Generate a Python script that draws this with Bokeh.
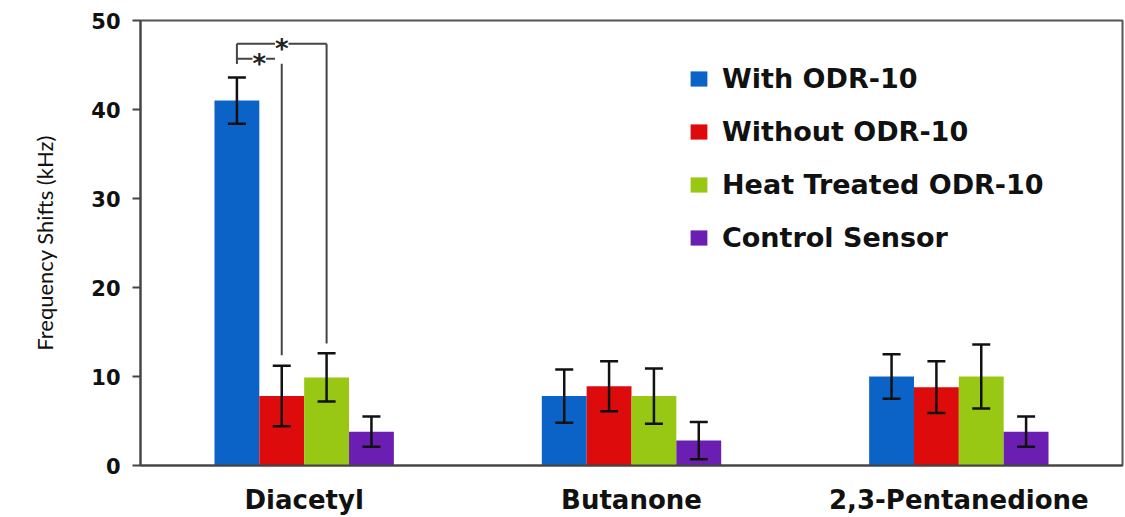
from bokeh.plotting import figure
from bokeh.models import Range1d, FixedTicker, Whisker, ColumnDataSource, Legend, LegendItem, Label, TeeHead
from bokeh.embed import file_html
from bokeh.resources import INLINE

categories = ["Diacetyl", "Butanone", "2,3-Pentanedione"]
series_names = ["With ODR-10", "Without ODR-10", "Heat Treated ODR-10", "Control Sensor"]
with_odr = [41.0, 7.8, 10.0]
with_odr_err = [2.6, 3.0, 2.5]
without_odr = [7.8, 8.9, 8.8]
without_odr_err = [3.4, 2.8, 2.9]
heat_treated = [9.9, 7.8, 10.0]
heat_treated_err = [2.7, 3.1, 3.6]
control_sensor = [3.8, 2.8, 3.8]
control_sensor_err = [1.7, 2.1, 1.7]
y_ticks = [0, 10, 20, 30, 40, 50]

# significance brackets (Diacetyl): from series 0 to series 1 and 2
sig_targets = [1, 2]
sig_levels = [45.7, 47.4]
sig_start = 45.1
sig_drop = [12.4, 13.7]

colors = ["#0b63c8", "#dd0b0b", "#98c814", "#6a1fb2"]
values = [with_odr, without_odr, heat_treated, control_sensor]
errors = [with_odr_err, without_odr_err, heat_treated_err, control_sensor_err]

bar_w = 0.137
n = len(series_names)

p = figure(width=1125, height=517, x_range=Range1d(0, 3), y_range=Range1d(0, 50),
           output_backend="svg", toolbar_location=None,
           min_border_left=140, min_border_right=3, min_border_top=20, min_border_bottom=52)
p.background_fill_color = "white"
p.border_fill_color = "white"
p.outline_line_color = "#555555"
p.outline_line_width = 2
p.xgrid.grid_line_color = None
p.ygrid.grid_line_color = None

centers = [i + 0.5 for i in range(len(categories))]
p.xaxis.ticker = FixedTicker(ticks=centers)
p.xaxis.major_label_overrides = {c: lab for c, lab in zip(centers, categories)}
p.xaxis.major_tick_line_color = None
p.xaxis.minor_tick_line_color = None
p.xaxis.axis_line_color = "#444444"
p.xaxis.axis_line_width = 2
p.xaxis.major_label_text_font = "DejaVu Sans"
p.xaxis.major_label_text_font_style = "bold"
p.xaxis.major_label_text_font_size = "26px"
p.xaxis.major_label_text_color = "#111111"
p.xaxis.major_label_standoff = 13

p.yaxis.ticker = FixedTicker(ticks=y_ticks)
p.yaxis.minor_tick_line_color = None
p.yaxis.major_tick_in = 0
p.yaxis.major_tick_out = 8
p.yaxis.major_tick_line_width = 2
p.yaxis.major_tick_line_color = "#444444"
p.yaxis.axis_line_color = "#444444"
p.yaxis.axis_line_width = 2
p.yaxis.major_label_text_font = "DejaVu Sans"
p.yaxis.major_label_text_font_style = "bold"
p.yaxis.major_label_text_font_size = "21px"
p.yaxis.major_label_text_color = "#111111"
p.yaxis.major_label_standoff = 12
p.yaxis.axis_label = "Frequency Shifts (kHz)"
p.yaxis.axis_label_text_font = "Lato"
p.yaxis.axis_label_text_font_style = "normal"
p.yaxis.axis_label_text_font_size = "22px"
p.yaxis.axis_label_text_color = "#111111"
p.yaxis.axis_label_standoff = 30

items = []
for k in range(n):
    xs = [c + (k - (n - 1) / 2) * bar_w for c in centers]
    src = ColumnDataSource(dict(x=xs, top=values[k],
                                up=[v + e for v, e in zip(values[k], errors[k])],
                                lo=[v - e for v, e in zip(values[k], errors[k])]))
    r = p.vbar(x="x", top="top", width=bar_w, source=src, fill_color=colors[k], line_color=None)
    items.append(LegendItem(label=series_names[k], renderers=[r]))
    w = Whisker(base="x", upper="up", lower="lo", source=src, line_color="#111111", line_width=2.5,
                level="overlay",
                upper_head=TeeHead(size=18, line_color="#111111", line_width=2.5),
                lower_head=TeeHead(size=18, line_color="#111111", line_width=2.5))
    p.add_layout(w)

# significance brackets
x0 = centers[0] + (0 - (n - 1) / 2) * bar_w
p.segment(x0=[x0], y0=[sig_start], x1=[x0], y1=[max(sig_levels)], line_color="#444444", line_width=2)
for t, lvl, drop in zip(sig_targets, sig_levels, sig_drop):
    xt = centers[0] + (t - (n - 1) / 2) * bar_w
    p.segment(x0=[x0, xt], y0=[lvl, lvl], x1=[xt, xt], y1=[lvl, drop], line_color="#444444", line_width=2)
    p.add_layout(Label(x=(x0 + xt) / 2, y=lvl, text="*", text_align="center", text_baseline="middle",
                       text_font="DejaVu Sans", text_font_size="26px", text_font_style="bold",
                       text_color="#222222", background_fill_color="white", y_offset=-5))

legend = Legend(items=items, location=(548, 212))
legend.label_text_font = "DejaVu Sans"
legend.label_text_font_style = "bold"
legend.label_text_font_size = "27px"
legend.label_text_color = "#111111"
legend.glyph_width = 21
legend.glyph_height = 19
legend.label_height = 26
legend.spacing = 22
legend.padding = 0
legend.margin = 0
legend.label_standoff = 13
legend.border_line_color = None
legend.background_fill_alpha = 0
p.add_layout(legend)

open("out.html", "w").write(file_html(p, INLINE))
